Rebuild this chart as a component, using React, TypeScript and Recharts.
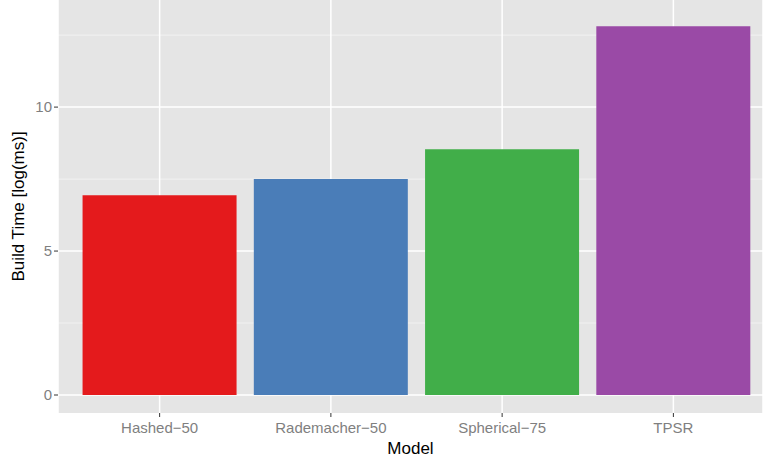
import React from 'react';
import { BarChart, Bar, XAxis, YAxis, CartesianGrid, Cell } from 'recharts';

const models = ['Hashed\u221250', 'Rademacher\u221250', 'Spherical\u221275', 'TPSR'];
const buildTimes = [6.94, 7.5, 8.54, 12.81];
const colors = ['#E41A1C', '#4A7DB8', '#41AE49', '#9A4AA6'];
const majorTicks = [0, 5, 10];
const minorTicks = [2.5, 7.5, 12.5];

const data = models.map((m, i) => ({ model: m, value: buildTimes[i] }));

export default function App() {
  return (
    <div style={{ position: 'absolute', left: 0, top: 0, fontFamily: 'Liberation Sans, Arial, sans-serif' }}>
      <BarChart
        width={763}
        height={457}
        data={data}
        margin={{ top: 0, right: 0, left: 0, bottom: 0 }}
        barCategoryGap="5%"
      >
        <CartesianGrid
          fill="#E5E5E5"
          stroke="#F2F2F2"
          strokeWidth={1}
          vertical={false}
          horizontalValues={minorTicks}
        />
        <CartesianGrid stroke="#FFFFFF" strokeWidth={1.5} horizontalValues={majorTicks} />
        <XAxis
          dataKey="model"
          height={44}
          padding={{ left: 16, right: 4 }}
          axisLine={false}
          tickSize={4}
          tickLine={{ stroke: '#333333' }}
          tick={{ fill: '#7F7F7F', fontSize: 15, dy: 3 }}
          label={{ value: 'Model', position: 'insideBottom', offset: 3, fill: '#000', fontSize: 17 }}
        />
        <YAxis
          width={58}
          domain={[-0.625, 13.72]}
          ticks={majorTicks}
          allowDataOverflow
          axisLine={false}
          tickSize={4}
          tickLine={{ stroke: '#333333' }}
          tick={{ fill: '#7F7F7F', fontSize: 15 }}
          label={{ value: 'Build Time [log(ms)]', angle: -90, position: 'insideLeft', offset: 18, fill: '#000', fontSize: 17, style: { textAnchor: 'middle' } }}
        />
        <Bar dataKey="value" isAnimationActive={false}>
          {data.map((d, i) => (
            <Cell key={d.model} fill={colors[i]} />
          ))}
        </Bar>
      </BarChart>
    </div>
  );
}
